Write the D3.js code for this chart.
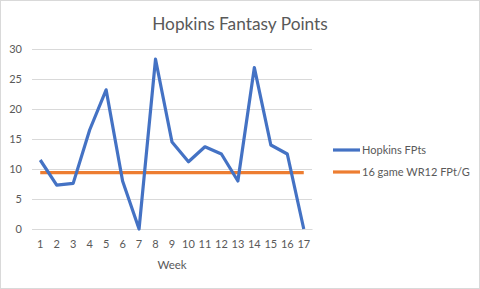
<!DOCTYPE html>
<html><head><meta charset="utf-8">
<script src="https://cdn.jsdelivr.net/npm/d3@7/dist/d3.min.js"></script>
<style>body{margin:0;background:#fff;}svg{display:block;font-family:Lato,"Open Sans",sans-serif;}</style>
</head><body><svg id="c" width="480" height="289"></svg>
<script>
const weeks = [1,2,3,4,5,6,7,8,9,10,11,12,13,14,15,16,17];
const hopkins = [11.5,7.3,7.6,16.5,23.2,8.0,0,28.3,14.5,11.2,13.7,12.5,8.0,26.9,14.0,12.5,0];
const wr12 = weeks.map(() => 9.4);
const yTicks = [0,5,10,15,20,25,30];
const seriesNames = ["Hopkins FPts","16 game WR12 FPt/G"];

const svg = d3.select("#c");
svg.append("rect").attr("x",0.5).attr("y",0.5).attr("width",479).attr("height",288)
  .attr("fill","#fff").attr("stroke","#d9d9d9");

const x = d3.scaleBand().domain(weeks).range([32,312]);
const y = d3.scaleLinear().domain([0,30]).range([229,49]);

svg.append("text").attr("x",240).attr("y",29.5).attr("text-anchor","middle")
  .attr("font-size",17.3).attr("fill","#595959").text("Hopkins Fantasy Points");

const yAxis = svg.append("g").attr("transform","translate(32,0)")
  .call(d3.axisLeft(y).tickValues(yTicks).tickSize(-280).tickPadding(10));
yAxis.select(".domain").remove();
yAxis.selectAll("line").attr("stroke","#d9d9d9");
yAxis.selectAll("text").attr("fill","#595959").attr("font-size",11).attr("font-family","Lato,sans-serif");

const xAxis = svg.append("g").attr("transform","translate(0,229)")
  .call(d3.axisBottom(x).tickSize(0).tickPadding(11));
xAxis.select(".domain").attr("stroke","#d9d9d9");
xAxis.selectAll("text").attr("fill","#595959").attr("font-size",11).attr("font-family","Lato,sans-serif");

svg.append("text").attr("x",172).attr("y",269).attr("text-anchor","middle")
  .attr("font-size",11.5).attr("fill","#595959").text("Week");

const cx = d => x(d) + x.bandwidth()/2;
const line = d3.line().x((d,i)=>cx(weeks[i])).y(d=>y(d));
svg.append("path").datum(wr12).attr("d",line).attr("fill","none")
  .attr("stroke","#ED7D31").attr("stroke-width",3.2);
svg.append("path").datum(hopkins).attr("d",line).attr("fill","none")
  .attr("stroke","#4472C4").attr("stroke-width",3.2).attr("stroke-linejoin","round");

const colors = ["#4472C4","#ED7D31"];
const leg = svg.append("g");
seriesNames.forEach((n,i)=>{
  const yy = 150 + i*22;
  leg.append("line").attr("x1",333).attr("x2",360).attr("y1",yy).attr("y2",yy)
    .attr("stroke",colors[i]).attr("stroke-width",3.2);
  leg.append("text").attr("x",362).attr("y",yy+4).attr("font-size",11)
    .attr("fill","#595959").text(n);
});
</script></body></html>
